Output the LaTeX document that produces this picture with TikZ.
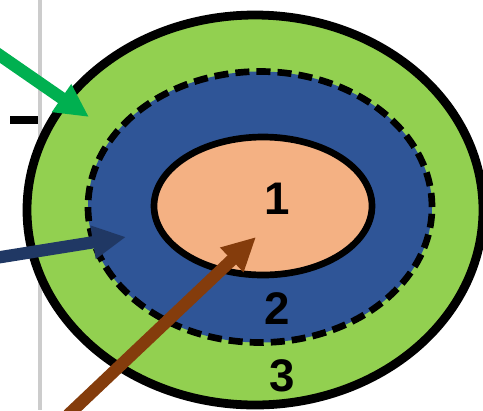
\documentclass[tikz,border=0pt]{standalone}
\usepackage{fontspec}
\setmainfont{Liberation Sans}
\usetikzlibrary{positioning}
\usetikzlibrary{arrows.meta}
\usetikzlibrary{shapes.geometric}

\definecolor{ringgreen}{HTML}{92D050}
\definecolor{ringblue}{HTML}{2F5597}
\definecolor{corepeach}{HTML}{F4B183}
\definecolor{arrowgreen}{HTML}{00B050}
\definecolor{arrownavy}{HTML}{203864}
\definecolor{arrowbrown}{HTML}{843C0C}

\tikzset{
  ring/.style={ellipse, draw=black, inner sep=0pt},
  pointer/.style={line width=7pt, -{Triangle[length=19pt, width=18pt]}},
  digit/.style={font=\bfseries\fontsize{26}{30}\selectfont, inner sep=0pt}
}

\begin{document}
\begin{tikzpicture}[x=0.02cm, y=-0.02cm]

  \useasboundingbox (0,0) rectangle (483,410);

  % Background
  \draw[gray!40, line width=2.5pt] (40,0) -- (40,410);
  \draw[line width=4pt] (10,120) -- (38,120);

  % Rings
  \node[ring, fill=ringgreen, line width=5pt,
        minimum width=456*0.02cm, minimum height=390*0.02cm] (outer) at (255,210) {};
  \node[ring, fill=ringblue, line width=3.8pt, dash pattern=on 8pt off 4pt,
        minimum width=344*0.02cm, minimum height=271*0.02cm] (middle) at (260,207) {};
  \node[ring, fill=corepeach, line width=3.8pt,
        minimum width=218*0.02cm, minimum height=138*0.02cm] (core) at (263,206) {};

  % Labels
  \node[digit] (one) at (277,199) {1};
  \node[digit] (two) at (277,309) {2};
  \node[digit] (three) at (282,376) {3};

  % Arrows
  \coordinate (greenstart) at (-5,52);
  \coordinate (greentip) at (89,117);
  \coordinate (navystart) at (-5,258);
  \coordinate (navytip) at (126,237);
  \coordinate (brownstart) at (68,415);
  \coordinate (browntip) at (256,237);
  \draw[pointer, arrowgreen] (greenstart) -- (greentip);
  \draw[pointer, arrownavy] (navystart) -- (navytip);
  \draw[pointer, arrowbrown] (brownstart) -- (browntip);
\end{tikzpicture}
\end{document}
